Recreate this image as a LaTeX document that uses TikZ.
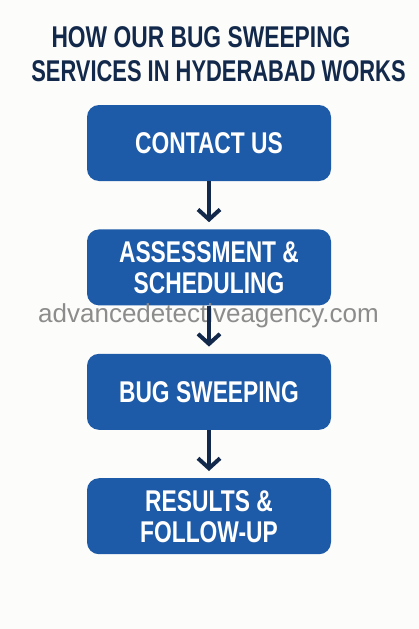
\documentclass[tikz,border=0pt]{standalone}
\usepackage{fontspec}
\setmainfont{Liberation Sans}
\newfontfamily\condfont[FakeStretch=0.76]{Liberation Sans}
\newfontfamily\narrowfont[FakeStretch=0.73]{Liberation Sans}
\usetikzlibrary{arrows.meta, positioning}
\definecolor{stepblue}{HTML}{1D5AA7}
\definecolor{navy}{HTML}{13294B}
\definecolor{markgray}{HTML}{8C8C8C}
\definecolor{paper}{HTML}{FCFCFA}
\tikzstyle{titletext}  = [text=navy,inner sep=0pt,font=\condfont\bfseries\fontsize{30}{31}\selectfont]
\tikzstyle{stepbox}    = [rectangle,rounded corners=12pt,fill=stepblue,text=white,align=center,minimum width=244pt,minimum height=76pt,font=\condfont\bfseries\fontsize{30}{31}\selectfont]
\tikzstyle{flowarrow}  = [draw=navy,line width=4pt,-{Straight Barb[length=10pt,width=22pt]},shorten >=7pt]
\tikzstyle{watermark}  = [text=markgray,inner sep=0pt,font=\fontsize{26}{26}\selectfont]

\begin{document}
\begin{tikzpicture}[node distance=48pt]
        \fill[paper] (0,0) rectangle (419pt,-629pt);
        \useasboundingbox (0,0) rectangle (419pt,-629pt);

        \node[titletext,anchor=base] (title line 1) at (201pt,-47pt)   {HOW OUR BUG SWEEPING};
        \node[titletext,anchor=base,font=\narrowfont\bfseries\fontsize{30}{31}\selectfont]
                                     (title line 2) at (218.5pt,-81pt) {SERVICES IN HYDERABAD WORKS};

        \node[stepbox]               (contact)    at (209pt,-143pt)    {CONTACT US};
        \node[stepbox]               (assessment) [below=of contact]   {ASSESSMENT \&\\ SCHEDULING};
        \node[stepbox]               (sweeping)   [below=of assessment]{BUG SWEEPING};
        \node[stepbox]               (results)    [below=of sweeping]  {RESULTS \&\\ FOLLOW-UP};

        \node[watermark,anchor=base west] (site) at (38pt,-322pt) {advancedetectiveagency.com};

        \draw[flowarrow] (contact.south)    -- (assessment.north);
        \draw[flowarrow] (assessment.south) -- (sweeping.north);
        \draw[flowarrow] (sweeping.south)   -- (results.north);
    \end{tikzpicture}
\end{document}
